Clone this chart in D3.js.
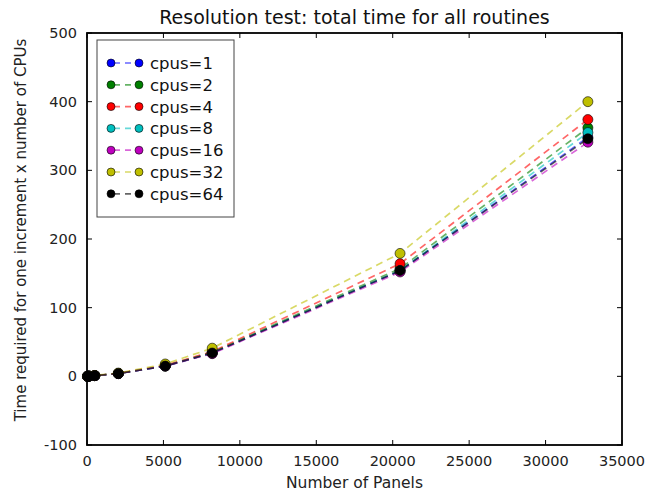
<html>
<head>
<style>
body{margin:0;background:#fff;}
text{font-family:"DejaVu Sans",sans-serif;}
</style>
</head>
<body>
<svg id="graph" width="656" height="494"></svg>
<script src="https://d3js.org/d3.v7.min.js"></script>
<script>
var panels = [32,128,512,2048,5120,8192,20480,32768];
var cpuLabels = ['cpus=1','cpus=2','cpus=4','cpus=8','cpus=16','cpus=32','cpus=64'];
var cpus1  = [0.1,0.3,1.0,4.0,15.0,34,154,348];
var cpus2  = [0.1,0.3,1.0,4.0,15.5,35,157,362];
var cpus4  = [0.1,0.3,1.1,4.2,16.0,36,164,374];
var cpus8  = [0.1,0.3,1.0,4.0,15.0,34,154,355];
var cpus16 = [0.1,0.3,1.0,4.0,15.0,33,152,341];
var cpus32 = [0.2,0.4,1.3,4.8,18.0,41,179,400];
var cpus64 = [0.1,0.3,1.0,4.0,15.0,34,154,346];
var colors = ['#0000ff','#008000','#ff0000','#00bfbf','#bf00bf','#bfbf00','#000000'];
var xTicks = [0,5000,10000,15000,20000,25000,30000,35000];
var yTicks = [-100,0,100,200,300,400,500];

var allSeries = [cpus1,cpus2,cpus4,cpus8,cpus16,cpus32,cpus64];
var pL=87,pR=622,pT=33,pB=445;
var svg = d3.select('#graph');
var x = d3.scaleLinear().domain([0,35000]).range([pL,pR]);
var y = d3.scaleLinear().domain([-100,500]).range([pB,pT]);

// ticks (inward, all four sides)
var tl = 5;
svg.append('g').selectAll('line').data(xTicks).enter().append('line')
	.attr('x1',function(d){return x(d);}).attr('x2',function(d){return x(d);})
	.attr('y1',pB).attr('y2',pB-tl).attr('stroke','#000');
svg.append('g').selectAll('line').data(xTicks).enter().append('line')
	.attr('x1',function(d){return x(d);}).attr('x2',function(d){return x(d);})
	.attr('y1',pT).attr('y2',pT+tl).attr('stroke','#000');
svg.append('g').selectAll('line').data(yTicks).enter().append('line')
	.attr('y1',function(d){return y(d);}).attr('y2',function(d){return y(d);})
	.attr('x1',pL).attr('x2',pL+tl).attr('stroke','#000');
svg.append('g').selectAll('line').data(yTicks).enter().append('line')
	.attr('y1',function(d){return y(d);}).attr('y2',function(d){return y(d);})
	.attr('x1',pR).attr('x2',pR-tl).attr('stroke','#000');

svg.append('g').selectAll('text').data(xTicks).enter().append('text')
	.attr('x',function(d){return x(d);}).attr('y',pB+21)
	.attr('text-anchor','middle').style('font-size','14.5px').style('fill','#222')
	.text(function(d){return d;});
svg.append('g').selectAll('text').data(yTicks).enter().append('text')
	.attr('x',pL-10).attr('y',function(d){return y(d)+5;})
	.attr('text-anchor','end').style('font-size','14.5px').style('fill','#222')
	.text(function(d){return d;});

// lines
var line = d3.line().x(function(d,i){return x(panels[i]);}).y(function(d){return y(d);});
var series = svg.append('g').selectAll('g').data(allSeries).enter().append('g');
series.append('path')
	.attr('d',function(d){return line(d);})
	.attr('fill','none')
	.attr('stroke',function(d,i){return colors[i];})
	.attr('stroke-width',1.7)
	.attr('stroke-opacity',0.6)
	.attr('stroke-dasharray','7,5');
series.selectAll('circle').data(function(d,i){return d.map(function(v,j){return {v:v,j:j,c:colors[i]};});})
	.enter().append('circle')
	.attr('cx',function(d){return x(panels[d.j]);})
	.attr('cy',function(d){return y(d.v);})
	.attr('r',5)
	.attr('fill',function(d){return d.c;})
	.attr('stroke','#000').attr('stroke-width',0.6);

// frame
svg.append('rect').attr('x',pL).attr('y',pT).attr('width',pR-pL).attr('height',pB-pT)
	.attr('fill','none').attr('stroke','#000').attr('stroke-width',1.8);

// legend
var lg = svg.append('g');
lg.append('rect').attr('x',97).attr('y',40).attr('width',137).attr('height',177)
	.attr('fill','#fff').attr('stroke','#444').attr('stroke-width',1);
var items = lg.selectAll('g.item').data(cpuLabels).enter().append('g')
	.attr('transform',function(d,i){return 'translate(0,'+(63+i*21.8)+')';});
items.append('line').attr('x1',111).attr('x2',139).attr('y1',0).attr('y2',0)
	.attr('stroke',function(d,i){return colors[i];}).attr('stroke-width',1.7)
	.attr('stroke-opacity',0.6).attr('stroke-dasharray','6,5').attr('stroke-dashoffset',-3);
items.append('circle').attr('cx',111).attr('cy',0).attr('r',4)
	.attr('fill',function(d,i){return colors[i];}).attr('stroke','#000').attr('stroke-width',0.6);
items.append('circle').attr('cx',139).attr('cy',0).attr('r',4)
	.attr('fill',function(d,i){return colors[i];}).attr('stroke','#000').attr('stroke-width',0.6);
items.append('text').attr('x',150).attr('y',6).style('font-size','16.5px').style('fill','#111')
	.text(function(d){return d;});

// titles
svg.append('text').attr('x',(pL+pR)/2).attr('y',24).attr('text-anchor','middle')
	.style('font-size','19px').style('fill','#111').text('Resolution test: total time for all routines');
svg.append('text').attr('x',(pL+pR)/2).attr('y',488).attr('text-anchor','middle')
	.style('font-size','15.5px').style('fill','#222').text('Number of Panels');
svg.append('text').attr('transform','translate(26,230) rotate(-90)')
	.attr('text-anchor','middle').style('font-size','15px').style('fill','#222')
	.text('Time required for one increment x number of CPUs');
</script>
</body>
</html>
